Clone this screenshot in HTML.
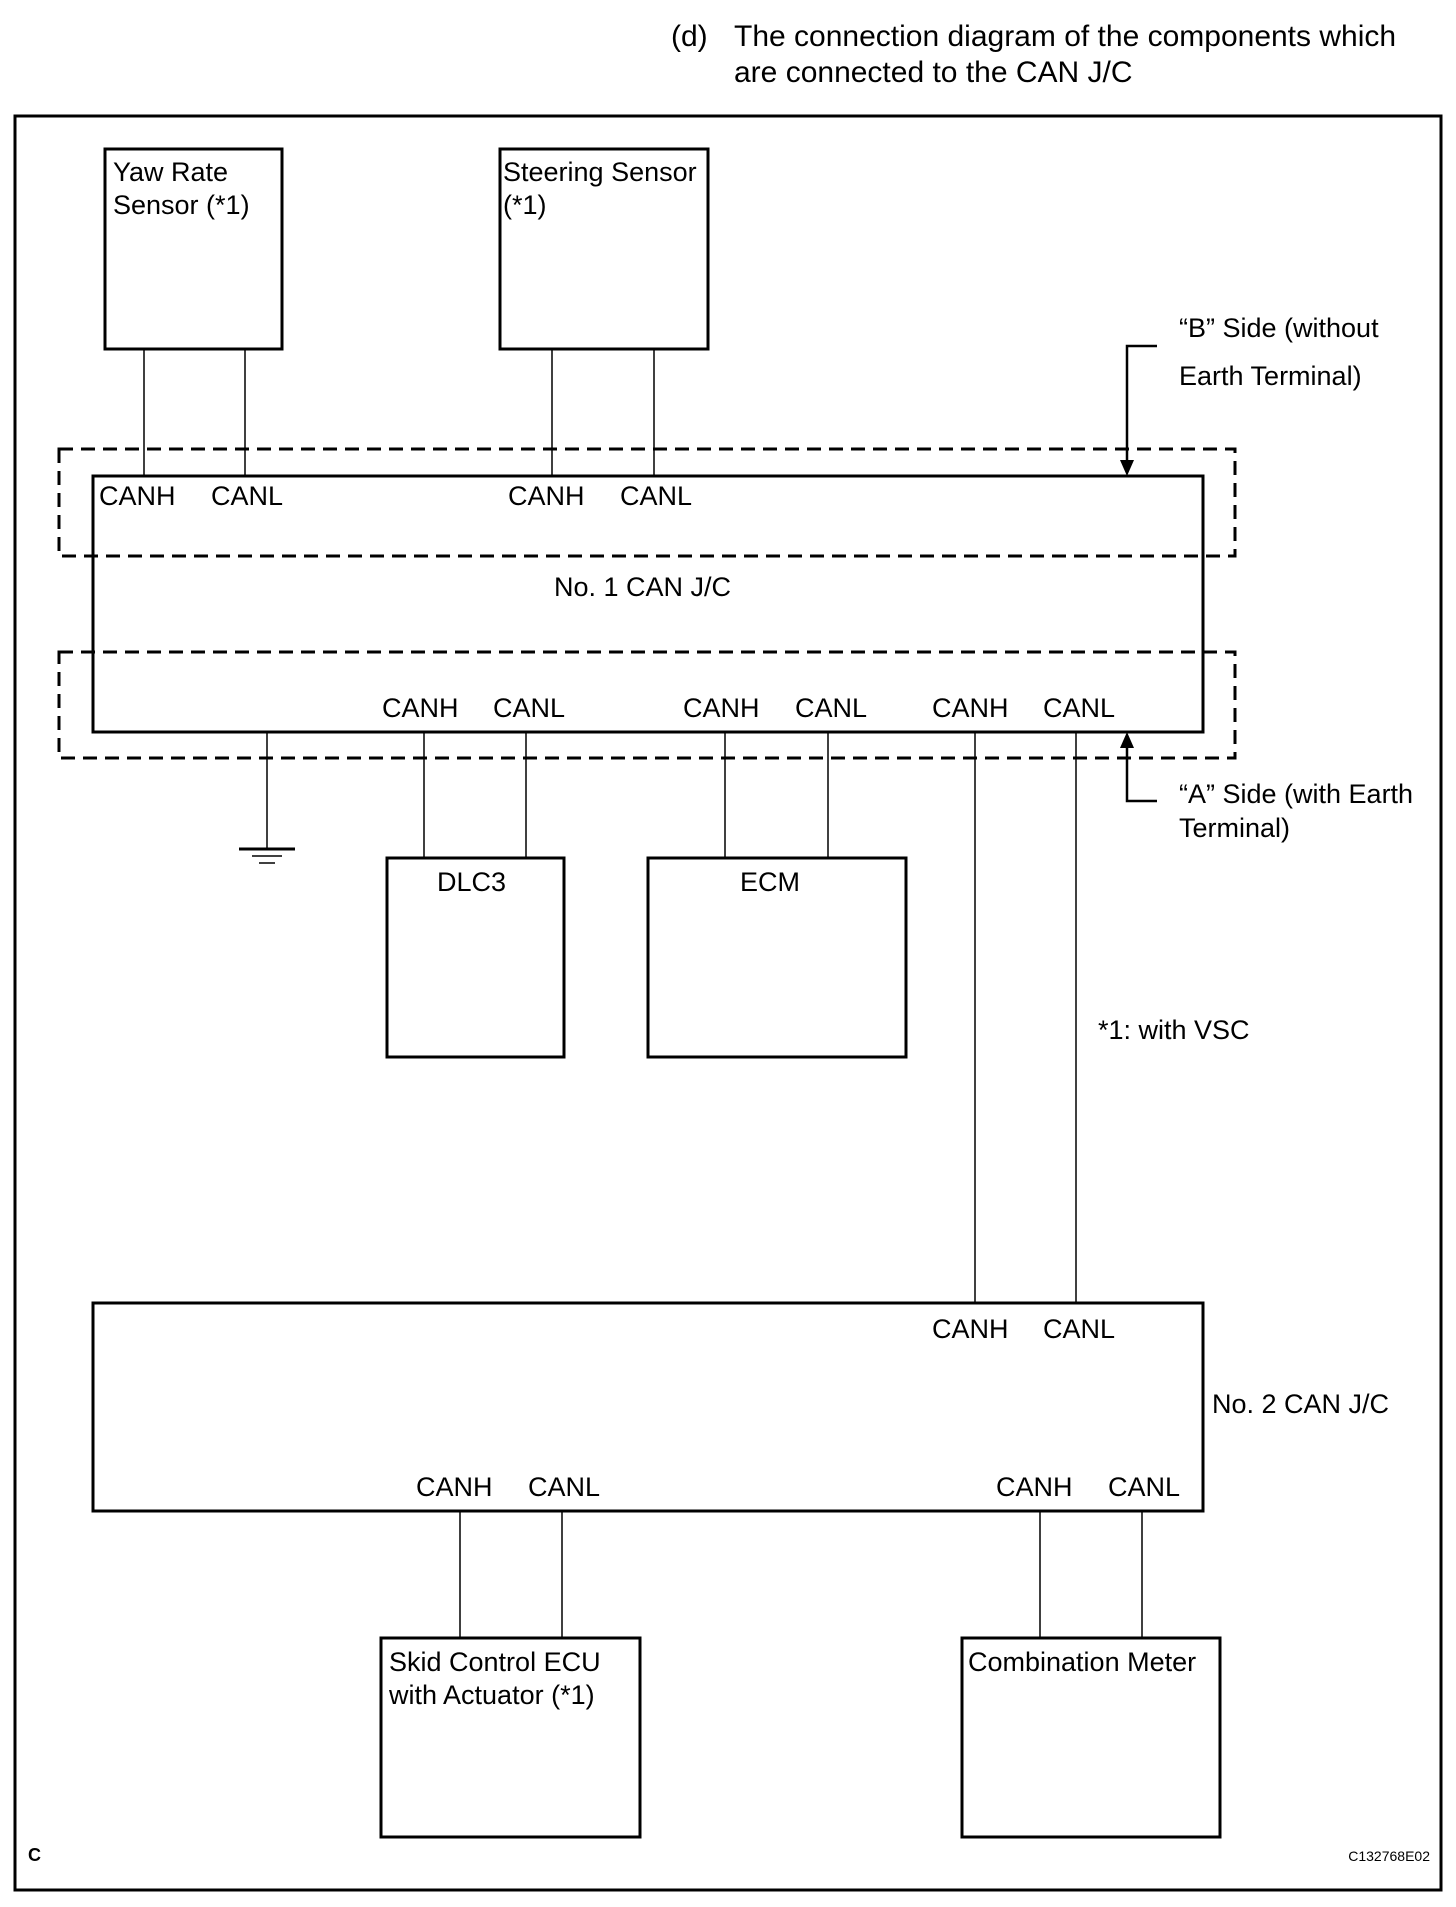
<!DOCTYPE html>
<html><head><meta charset="utf-8"><style>
html,body{margin:0;padding:0;background:#fff;}
body{width:1456px;height:1902px;overflow:hidden;}
</style></head><body>
<svg width="1456" height="1902" viewBox="0 0 1456 1902" xmlns="http://www.w3.org/2000/svg" font-family="Liberation Sans, Arial, sans-serif" font-size="27" fill="#000">
<g fill="none" stroke="#000">
<rect x="15" y="116" width="1426" height="1774" stroke-width="3"/>
<rect x="105" y="149" width="177" height="200" stroke-width="3"/>
<rect x="500" y="149" width="208" height="200" stroke-width="3"/>
<rect x="93" y="476" width="1110" height="256" stroke-width="3"/>
<rect x="387" y="858" width="177" height="199" stroke-width="3"/>
<rect x="648" y="858" width="258" height="199" stroke-width="3"/>
<rect x="93" y="1303" width="1110" height="208" stroke-width="3"/>
<rect x="381" y="1638" width="259" height="199" stroke-width="3"/>
<rect x="962" y="1638" width="258" height="199" stroke-width="3"/>
<g stroke-width="3" stroke-dasharray="14,8">
<rect x="59" y="449" width="1176" height="107"/>
<rect x="59" y="652" width="1176" height="106"/>
</g>
<g stroke-width="1.5">
<line x1="144" y1="349" x2="144" y2="476"/><line x1="245" y1="349" x2="245" y2="476"/>
<line x1="552" y1="349" x2="552" y2="476"/><line x1="654" y1="349" x2="654" y2="476"/>
<line x1="267" y1="732" x2="267" y2="849"/>
<line x1="424" y1="732" x2="424" y2="858"/><line x1="526" y1="732" x2="526" y2="858"/>
<line x1="725" y1="732" x2="725" y2="858"/><line x1="828" y1="732" x2="828" y2="858"/>
<line x1="975" y1="732" x2="975" y2="1303"/><line x1="1076" y1="732" x2="1076" y2="1303"/>
<line x1="460" y1="1511" x2="460" y2="1638"/><line x1="562" y1="1511" x2="562" y2="1638"/>
<line x1="1040" y1="1511" x2="1040" y2="1638"/><line x1="1142" y1="1511" x2="1142" y2="1638"/>
<line x1="252" y1="856" x2="282" y2="856"/><line x1="259" y1="863" x2="275" y2="863"/>
</g>
<line x1="239" y1="849" x2="295" y2="849" stroke-width="3"/>
<polyline points="1157,346 1127,346 1127,462" stroke-width="2.5"/>
<polyline points="1157,801 1127,801 1127,746" stroke-width="2.5"/>
</g>
<polygon points="1120,460 1134,460 1127,476"/>
<polygon points="1120,748 1134,748 1127,732"/>
<g font-size="30">
<text x="671" y="46">(d)</text>
<text x="734" y="46">The connection diagram of the components which</text>
<text x="734" y="82">are connected to the CAN J/C</text>
</g>
<text x="113" y="181">Yaw Rate</text><text x="113" y="214">Sensor (*1)</text>
<text x="503" y="181">Steering Sensor</text><text x="503" y="214">(*1)</text>
<text x="99" y="505">CANH</text><text x="211" y="505">CANL</text>
<text x="508" y="505">CANH</text><text x="620" y="505">CANL</text>
<text x="554" y="596">No. 1 CAN J/C</text>
<text x="382" y="717">CANH</text><text x="493" y="717">CANL</text>
<text x="683" y="717">CANH</text><text x="795" y="717">CANL</text>
<text x="932" y="717">CANH</text><text x="1043" y="717">CANL</text>
<text x="1179" y="337">“B” Side (without</text><text x="1179" y="385">Earth Terminal)</text>
<text x="1179" y="803">“A” Side (with Earth</text><text x="1179" y="837">Terminal)</text>
<text x="437" y="891">DLC3</text><text x="740" y="891">ECM</text>
<text x="1098" y="1039">*1: with VSC</text>
<text x="932" y="1338">CANH</text><text x="1043" y="1338">CANL</text>
<text x="1212" y="1413">No. 2 CAN J/C</text>
<text x="416" y="1496">CANH</text><text x="528" y="1496">CANL</text>
<text x="996" y="1496">CANH</text><text x="1108" y="1496">CANL</text>
<text x="389" y="1671">Skid Control ECU</text><text x="389" y="1704">with Actuator (*1)</text>
<text x="968" y="1671">Combination Meter</text>
<text x="28" y="1861" font-size="18" font-weight="bold">C</text>
<text x="1430" y="1861" font-size="14" text-anchor="end">C132768E02</text>
</svg>
</body></html>
